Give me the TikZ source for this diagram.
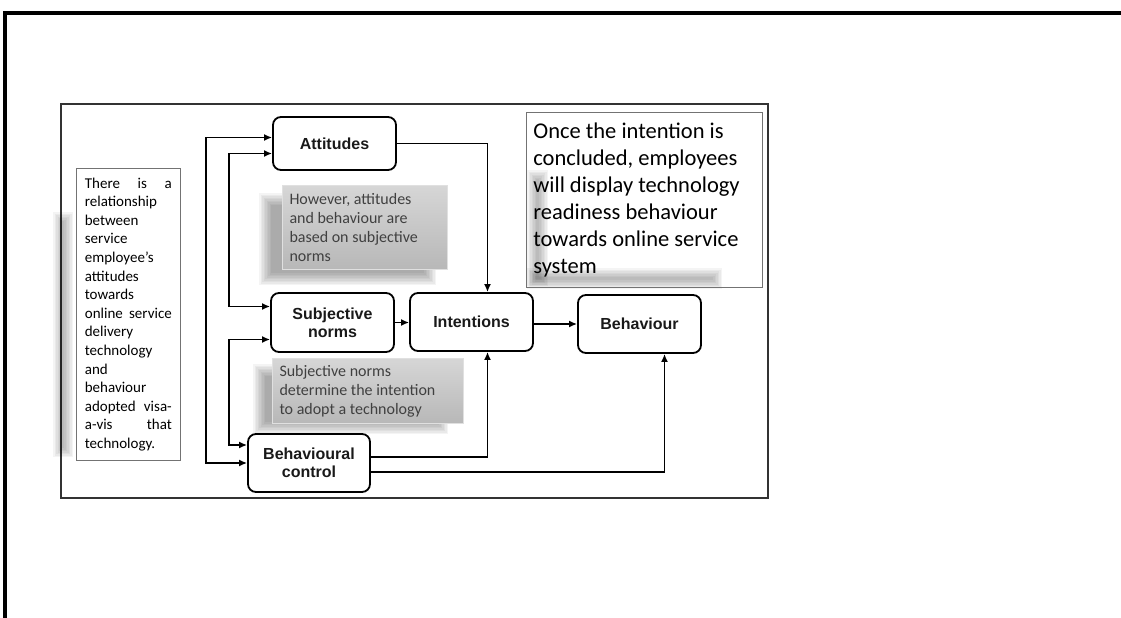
\documentclass[tikz,border=0pt]{standalone}
\usepackage{fontspec}
\setmainfont{Carlito}
\newfontfamily\arialfont{Liberation Sans}
\usetikzlibrary{arrows.meta,positioning}

\begin{document}
\begin{tikzpicture}[x=1pt,y=-1pt,
	block/.style={draw, rounded corners=8pt, line width=1.8pt, align=center, minimum width=123pt, minimum height=57pt, inner sep=2pt, text=black!90, font=\arialfont\bfseries\fontsize{16}{18}\selectfont},
	note/.style={draw=black!55, line width=0.7pt, align=flush left, anchor=north west, inner ysep=0pt},
	greynote/.style={draw=white!88!black, line width=1pt, top color=black!16, bottom color=black!28, text=black!75, align=flush left, anchor=north west, inner xsep=7pt, font=\fontsize{16}{19}\selectfont},
	link/.style={line width=1.6pt, -{Latex[length=8pt,width=7pt]}},
	both/.style={line width=1.6pt, {Latex[length=8pt,width=7pt]}-{Latex[length=8pt,width=7pt]}}]
\useasboundingbox (0,0) rectangle (1121,618);

% frames
\draw[line width=3.5pt] (1130,13) -- (5,13) -- (5,630);
\draw[line width=2pt, black!80] (61,104) rectangle (768,498);

% soft shadows
\foreach \xa/\ya/\xb/\yb/\n in {259/193/436/285/8, 253/364/448/434/8, 53/212/73/457/6, 527/170/548/286/6, 527/268/722/289/6}
	\foreach \j in {0,...,\n}
		\fill[black, opacity=.045] (\xa+1.5*\j,\ya+1.5*\j) rectangle (\xb-1.5*\j,\yb-1.5*\j);

% text boxes
\node[note, text width=87pt, inner xsep=8.5pt, minimum height=292pt, font=\fontsize{15}{18.6}\selectfont] (why) at (76,168)
	{There\hfill is\hfill a\\ relationship\\ between\\ service\\ employee’s\\ attitudes\\ towards\\ \makebox[87pt][s]{online service}\\ delivery\\ technology\\ and\\ behaviour\\ adopted\hfill visa-\\ a-vis\hfill that\\ technology.};
\node[note, text width=222pt, inner xsep=7pt, minimum height=175pt, font=\fontsize{22.5}{27}\selectfont] (once) at (526,112)
	{Once the intention is\\ concluded, employees\\ will display technology\\ readiness behaviour\\ towards online service\\ system};
\node[greynote, text width=151pt, minimum height=84pt] (however) at (282,185)
	{However, attitudes\\ and behaviour are\\ based on subjective\\ norms};
\node[greynote, text width=177pt, minimum height=65pt] (determine) at (272,358)
	{Subjective norms\\ determine the intention\\ to adopt a technology};

% model
\node[block, minimum height=53pt] (att) at (334.5,143.5) {Attitudes};
\node[block, minimum height=59pt] (sn) at (332.5,322.5) {Subjective\\ norms};
\node[block, minimum height=58pt] (int) at (471.5,322) {Intentions};
\node[block, minimum height=58pt] (beh) at (639.5,324) {Behaviour};
\node[block, minimum width=122pt, minimum height=58pt] (bc) at (309,463) {Behavioural\\ control};

\draw[both] ([yshift=6pt]att.west) -- ++(-66,0) |- (bc.west);
\draw[both] ([yshift=-10pt]att.west) -- ++(-43,0) |- ([yshift=16pt]sn.west);
\draw[both] ([yshift=-17pt]sn.west) -- ++(-41,0) |- ([yshift=18pt]bc.west);
\draw[link] (att.east) -| ([xshift=16pt]int.north);
\draw[link] (sn.east) -- (sn.east -| int.west);
\draw[link] ([yshift=-2pt]int.east) -- ([yshift=-2pt]int.east -| beh.west);
\draw[link] ([yshift=6pt]bc.east) -| ([xshift=16pt]int.south);
\draw[link] ([yshift=-9pt]bc.east) -| ([xshift=25pt]beh.south);
\end{tikzpicture}
\end{document}
